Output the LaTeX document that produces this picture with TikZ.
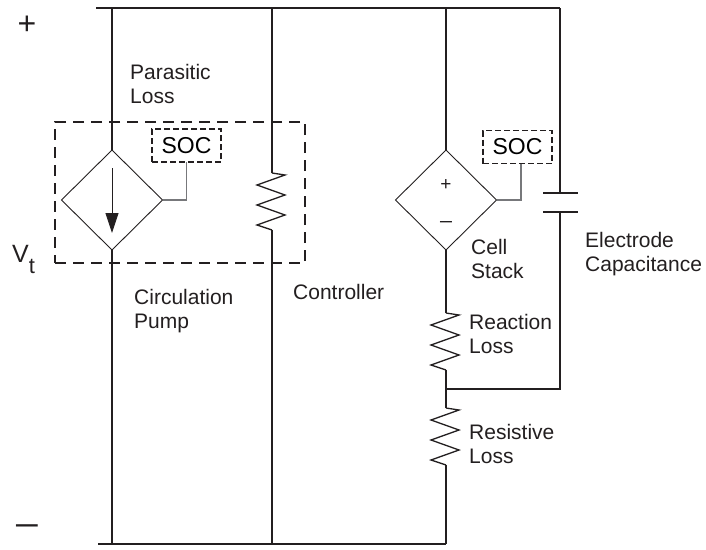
\documentclass[tikz,border=0pt]{standalone}
\usepackage{fontspec}
\setmainfont{Liberation Sans}
\usetikzlibrary{shapes.geometric,arrows.meta}
\definecolor{wirec}{HTML}{231F20}
\definecolor{ctrlc}{HTML}{77787B}
\begin{document}
\begin{tikzpicture}[x=1pt,y=-1pt,
  wire/.style={line width=1.7pt,draw=wirec},
  thin/.style={line width=0.9pt,draw=wirec},
  ctrl/.style={line width=1.3pt,draw=ctrlc},
  diam/.style={shape=diamond,draw=wirec,line width=0.9pt,minimum width=101pt,minimum height=100pt,inner sep=0pt,outer sep=0pt},
  soc/.style={draw=wirec,line width=1.3pt,dash pattern=on 6pt off 3pt,minimum width=69pt,minimum height=33pt,inner sep=0pt,outer sep=0pt,font=\fontsize{23}{26}\selectfont},
  bigbox/.style={draw=wirec,line width=1.6pt,dash pattern=on 11pt off 7pt,minimum width=250pt,minimum height=141pt,inner sep=0pt,outer sep=0pt},
  lbl/.style={font=\fontsize{21}{24}\selectfont,align=left,inner sep=0pt,anchor=base west,text=wirec},
  sign/.style={font=\fontsize{32}{32}\selectfont,inner sep=0pt,text=wirec},
  zres/.pic={
    \coordinate (-top) at (0,0);
    \coordinate (-bot) at (0,57);
    \draw[line width=1.3pt,draw=wirec,line join=miter] (0,0) -- (13,2) -- (-15,12) -- (13,22) -- (-15,32) -- (13,42) -- (-15,52) -- (0,57);
  }]
\useasboundingbox (0,0) rectangle (706,549);
\fill[white] (0,0) rectangle (706,549);

% rails
\coordinate (tl) at (96,8);
\coordinate (tr) at (560,8);
\coordinate (bl) at (98,544);
\coordinate (br) at (446,544);
\coordinate (t1) at (112,8);
\coordinate (t2) at (272,8);
\coordinate (t3) at (446,8);
\coordinate (b1) at (112,544);
\coordinate (b2) at (272,544);
\draw[wire] (tl) -- (tr);
\draw[wire] (bl) -- (br);

% dashed box
\node[bigbox] (pb) at (180,192.5) {};

% branch 1: circulation pump
\node[diam] (d1) at (112,200) {};
\draw[wire] (t1) -- (d1.north);
\draw[wire] (d1.south) -- (b1);
\draw[thin,-{Triangle[length=20pt,width=13pt]}] ([yshift=32pt]d1.center) -- ([yshift=-33pt]d1.center);
\node[soc] (soc1) at (186.5,145.5) {SOC};
\draw[ctrl] (soc1.south) |- (d1.east);

% branch 2: controller
\pic (r1) at (272,173) {zres};
\draw[wire] (t2) -- (r1-top);
\draw[wire] (r1-bot) -- (b2);

% branch 3: cell stack
\node[diam] (d2) at (446,200) {};
\draw[wire] (t3) -- (d2.north);
\node[font=\fontsize{19}{19}\selectfont,inner sep=0pt,text=wirec] (plus2) at (446,185) {+};
\node[font=\fontsize{19}{19}\selectfont,inner sep=0pt,text=wirec] (minus2) at (446,225) {\scalebox{1.3}[1]{−}};
\node[soc] (soc2) at (517.5,147) {SOC};
\draw[ctrl] ([xshift=3.5pt]soc2.south) |- (d2.east);
\pic (r2) at (446,313) {zres};
\pic (r3) at (446,408) {zres};
\coordinate (j) at (446,389);
\coordinate (jc) at (560,389);
\draw[wire] (d2.south) -- (r2-top);
\draw[wire] (r2-bot) -- (j) -- (r3-top);
\draw[wire] (r3-bot) -- (br);

% branch 4: capacitor
\coordinate (c1) at (560,193);
\coordinate (c2) at (560,212);
\draw[wire] (tr) -- (c1);
\draw[wire] ([xshift=-17pt]c1) -- ([xshift=18pt]c1);
\draw[wire] ([xshift=-17pt]c2) -- ([xshift=18pt]c2);
\draw[wire] (c2) -- (jc) -- (j);

% labels
\node[sign] (plus) at (27,25) {+};
\node[sign] (minus) at (27,531) {\scalebox{1.4}[1]{−}};
\node[inner sep=0pt,anchor=base west,text=wirec,font=\fontsize{25}{25}\selectfont] (vt) at (12,262) {V\raisebox{-11pt}{\fontsize{22}{22}\selectfont t}};
\node[lbl] (lpar) at (130,103) {Parasitic\\Loss};
\node[lbl] (lcirc) at (134,328) {Circulation\\Pump};
\node[lbl] (lctrl) at (293,299) {Controller};
\node[lbl] (lcell) at (471,278) {Cell\\Stack};
\node[lbl] (lcap) at (585,271) {Electrode\\Capacitance};
\node[lbl] (lreac) at (469,353) {Reaction\\Loss};
\node[lbl] (lres) at (469,463) {Resistive\\Loss};
\end{tikzpicture}
\end{document}
